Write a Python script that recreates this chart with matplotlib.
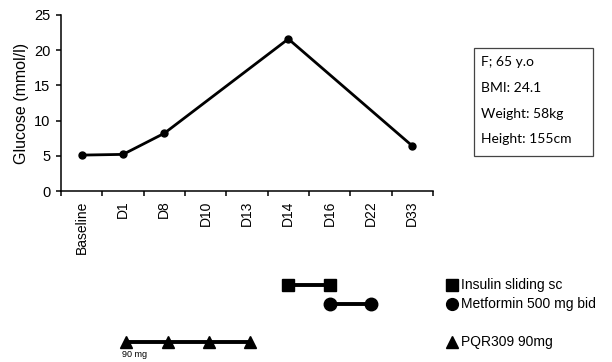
import numpy as np
import matplotlib.pyplot as plt
from matplotlib.patches import Rectangle

plt.rcParams['font.family'] = ['Liberation Sans', 'DejaVu Sans']

# data
days = ['Baseline', 'D1', 'D8', 'D10', 'D13', 'D14', 'D16', 'D22', 'D33']
glucose = [5.1, 5.2, 8.2, None, None, 21.6, None, None, 6.4]

insulin_days = ['D14', 'D16']
metformin_days = ['D16', 'D22']
pqr309_days = ['D1', 'D8', 'D10', 'D13']

treatments = ['Insulin sliding sc', 'Metformin 500 mg bid', 'PQR309 90mg']
patient_info = ['F; 65 y.o', 'BMI: 24.1', 'Weight: 58kg', 'Height: 155cm']

W, H = 612, 362
fig = plt.figure(figsize=(W / 100, H / 100), dpi=100)

# glucose panel
ax = fig.add_axes([61 / W, 1 - 191 / H, 372 / W, 176 / H])
xs = [i for i, v in enumerate(glucose) if v is not None]
ys = [v for v in glucose if v is not None]
ax.plot(xs, ys, color='black', lw=2.0, marker='o', ms=5)

ax.set_xlim(-0.5, len(days) - 0.5)
ax.set_ylim(0, 25)
ax.set_yticks(np.arange(0, 26, 5))
ax.set_xticks(np.arange(-0.5, len(days)), labels=[''] * (len(days) + 1))
ax.set_xticks(np.arange(len(days)), labels=days, minor=True, rotation=90)
ax.tick_params(axis='x', which='major', length=3.5, width=1.1, direction='out')
ax.tick_params(axis='x', which='minor', length=0, pad=7, labelsize=10)
ax.tick_params(axis='y', length=3.5, width=1.1, direction='out', pad=4, labelsize=10.5)
for s in ['top', 'right']:
    ax.spines[s].set_visible(False)
for s in ['left', 'bottom']:
    ax.spines[s].set_linewidth(1.1)
ax.set_ylabel('Glucose (mmol/l)', fontsize=11.5, labelpad=4)

# treatment timeline
ax2 = fig.add_axes([61 / W, 0, 372 / W, 102 / H])
ax2.set_xlim(-0.5, len(days) - 0.5)
ax2.set_ylim(4.07, -1.32)
ax2.axis('off')

rows = [0, 1, 3]
markers = ['s', 'o', '^']
for row, mk, d in zip(rows, markers, [insulin_days, metformin_days, pqr309_days]):
    px = [days.index(x) for x in d]
    if mk == '^':
        px = [p + 0.08 for p in px]
    ax2.plot(px, [row] * len(px), color='black', lw=2.8, marker=mk, ms=9, clip_on=False)

ax2.text(0.97, 3.7, '90 mg', fontsize=6.5, ha='left', va='center')

# legend for the timeline
for row, mk, name in zip(rows, markers, treatments):
    ax2.plot([8.95], [row], color='black', marker=mk, ms=8.5, ls='none', clip_on=False)
    ax2.text(9.18, row, name, fontsize=10, ha='left', va='center', clip_on=False)

# patient info box
fig.patches.append(Rectangle((474 / W, 1 - 156 / H), 119 / W, 108 / H,
                             transform=fig.transFigure, fill=False,
                             edgecolor='#444444', lw=0.9))
for i, line in enumerate(patient_info):
    fig.text(481 / W, 1 - (62 + 25.8 * i) / H, line, fontsize=10,
             family=['Lato', 'DejaVu Sans'], ha='left', va='center')

fig.savefig('out.png', dpi=100)
